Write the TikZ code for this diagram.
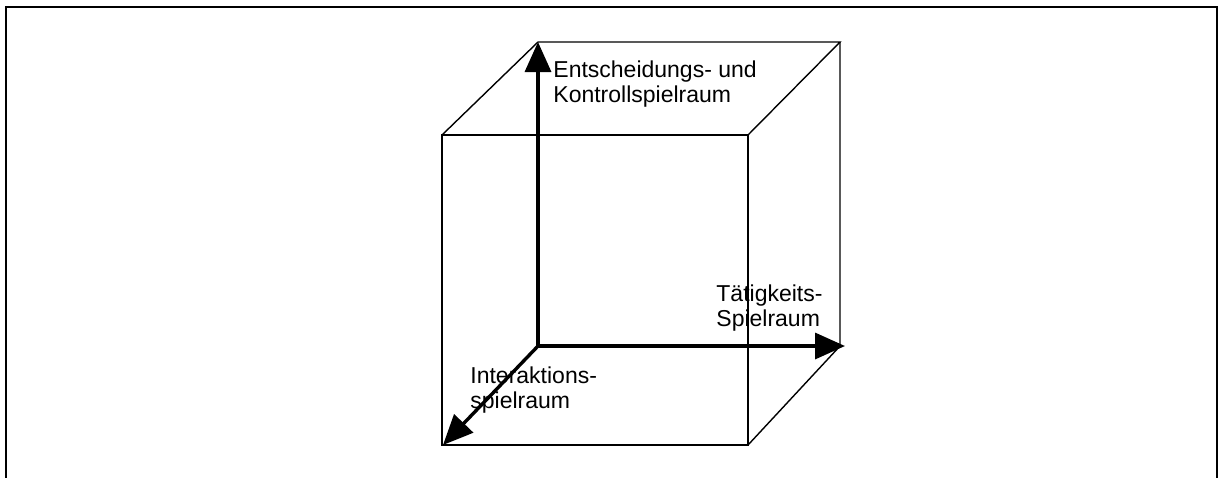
\documentclass[tikz,border=0pt]{standalone}
\usepackage{fontspec}
\setmainfont{Liberation Sans}
\usetikzlibrary{arrows.meta}
\tikzset{
    frame/.style={draw=black, line width=1pt},
    edge/.style={draw=black, line width=0.7pt},
    axis/.style={line width=1.7pt, -{Triangle[length=15pt, width=13pt]}},
    lbl/.style={anchor=base west, inner sep=0pt, align=left, font=\fontsize{11.5}{12.5}\selectfont}
}
\begin{document}
\begin{tikzpicture}[x=0.5pt, y=-0.5pt]
    \useasboundingbox (0,0) rectangle (1218,477);
    \clip (0,0) rectangle (1218,477);

    % outer frame (runs off the bottom)
    \draw [frame] (6,495) -- (6,7) -- (1217,7) -- (1217,495);

    % --- Cube corners ---
    \coordinate (ftl) at (442,135);
    \coordinate (ftr) at (748,135);
    \coordinate (fbr) at (748,445);
    \coordinate (fbl) at (442,445);
    \coordinate (btl) at (538,42);
    \coordinate (btr) at (840,42);
    \coordinate (bbr) at (840,346);
    \coordinate (origin) at (538,346);

    % axis tips
    \coordinate (up_tip) at (538,42);
    \coordinate (right_tip) at (845,346);
    \coordinate (diag_tip) at (443,445);

    % Cube edges
    \draw [edge] (ftl) -- (ftr) -- (fbr) -- (fbl) -- cycle;
    \draw [edge] (ftl) -- (btl) -- (btr) -- (ftr);
    \draw [edge] (btr) -- (bbr) -- (fbr);

    % --- Axes ---
    \draw [axis] (origin) -- (up_tip);
    \draw [axis] (origin) -- (right_tip);
    \draw [axis] (origin) -- (diag_tip);

    % --- Labels (base = last line) ---
    \node (ctrl) [lbl] at (553,102) {Entscheidungs- und\\Kontrollspielraum};
    \node (task) [lbl] at (716,326) {Tätigkeits-\\Spielraum};
    \node (inter) [lbl] at (470,408) {Interaktions-\\spielraum};
\end{tikzpicture}
\end{document}
